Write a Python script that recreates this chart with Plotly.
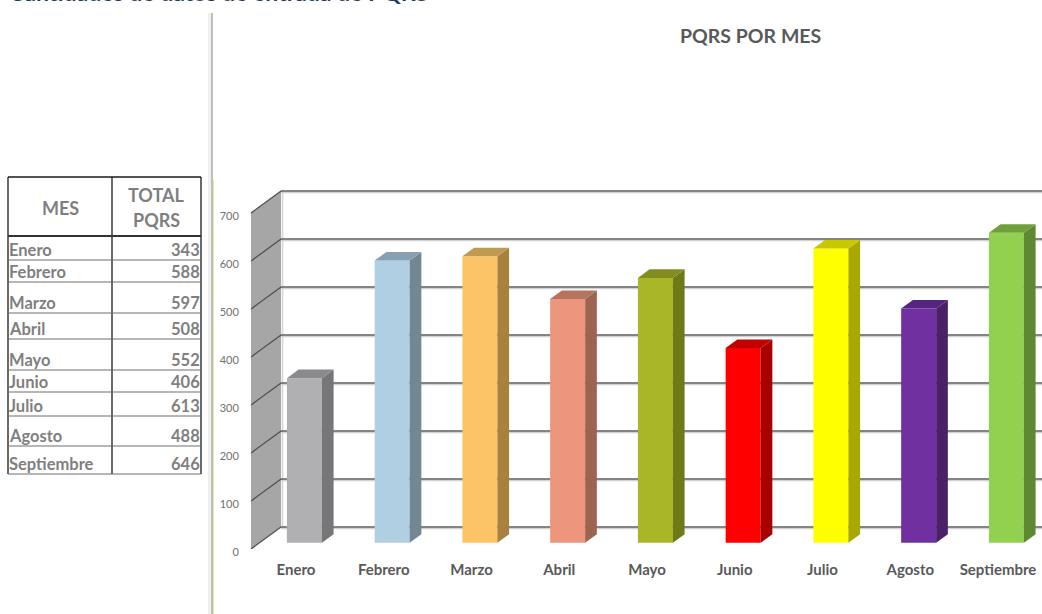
import plotly.graph_objects as go

MESES = ["Enero", "Febrero", "Marzo", "Abril", "Mayo", "Junio", "Julio", "Agosto", "Septiembre"]
TOTALES = [343, 588, 597, 508, 552, 406, 613, 488, 646]
COLOR_FRENTE = ["#b0b0b2", "#b0cfe2", "#fdc367", "#ed967d", "#a9b627", "#ff0000", "#ffff00", "#7030a0", "#92d050"]
COLOR_LADO = ["#767678", "#728693", "#a8813f", "#9c6451", "#6f7918", "#a80000", "#a8a800", "#4a2069", "#5f8832"]
COLOR_TAPA = ["#8a8a8c", "#86a0b2", "#c09a50", "#b47460", "#838c20", "#c20000", "#c8c800", "#552480", "#70a03c"]
TICKS_Y = [0, 100, 200, 300, 400, 500, 600, 700]
TITULO = "PQRS POR MES"
TITULO_CORTADO = "Cantidades de datos de entrada de PQRS"

W, H = 1042, 614
PX_X = 87.75        # px per category
PX_Y = 0.48         # px per unit
X0_PX = 296         # pixel of first category on the front plane
Y0_PX = 549         # pixel of value 0 on the front plane
LEFT_PX = 243
DEPTH_PX_X, DEPTH_PX_Y = 30, 22
BAR_W = 35 / PX_X
D_FRONT, D_BACK = 0.28, 0.67


def dx(d):
    return d * DEPTH_PX_X / PX_X


def dy(d):
    return d * DEPTH_PX_Y / PX_Y


def px(x):
    return x / W


def py(y):
    return 1 - y / H


x_min = (LEFT_PX - X0_PX) / PX_X
x_max = (W - X0_PX) / PX_X
y_max = Y0_PX / PX_Y
wall_x = (251 - X0_PX) / PX_X

fig = go.Figure()

# front faces
fig.add_trace(go.Bar(
    x=[i + dx(D_FRONT) for i in range(len(MESES))],
    y=TOTALES,
    base=dy(D_FRONT),
    width=BAR_W,
    marker=dict(color=COLOR_FRENTE, line=dict(width=0)),
    showlegend=False,
    hoverinfo="skip",
))

# side and top faces
for i, v in enumerate(TOTALES):
    xl = i + dx(D_FRONT) - BAR_W / 2
    xr = i + dx(D_FRONT) + BAR_W / 2
    base_f, base_b = dy(D_FRONT), dy(D_BACK)
    shift = dx(D_BACK) - dx(D_FRONT)
    fig.add_trace(go.Scatter(
        x=[xr, xr + shift, xr + shift, xr, xr],
        y=[base_f, base_b, v + base_b, v + base_f, base_f],
        mode="lines", fill="toself", fillcolor=COLOR_LADO[i],
        line=dict(width=0, color=COLOR_LADO[i]), showlegend=False, hoverinfo="skip"))
    fig.add_trace(go.Scatter(
        x=[xl, xr, xr + shift, xl + shift, xl],
        y=[v + base_f, v + base_f, v + base_b, v + base_b, v + base_f],
        mode="lines", fill="toself", fillcolor=COLOR_TAPA[i],
        line=dict(width=0, color=COLOR_TAPA[i]), showlegend=False, hoverinfo="skip"))

shapes = []
annotations = []

# left wall
wb = dx(1)
shapes.append(dict(type="path", xref="x", yref="y", layer="below",
                   path=f"M {wall_x} 0 L {wall_x + wb} {dy(1)} L {wall_x + wb} {700 + dy(1)} L {wall_x} 700 Z",
                   fillcolor="#a6a6a6", line=dict(width=0)))
shapes.append(dict(type="line", xref="x", yref="y", layer="below",
                   x0=wall_x + wb + 1.5 / PX_X, x1=wall_x + wb + 1.5 / PX_X, y0=dy(1), y1=700 + dy(1),
                   line=dict(color="#d4d4d4", width=1.5)))
for t in TICKS_Y:
    shapes.append(dict(type="line", xref="x", yref="y", layer="below",
                       x0=wall_x + wb, x1=x_max, y0=t + dy(1) - 3, y1=t + dy(1) - 3,
                       line=dict(color="#d2d2d2", width=1.5)))
    shapes.append(dict(type="line", xref="x", yref="y", layer="below",
                       x0=wall_x + wb, x1=x_max, y0=t + dy(1), y1=t + dy(1),
                       line=dict(color="#5e5e5e", width=1.5)))
    shapes.append(dict(type="line", xref="x", yref="y", layer="below",
                       x0=wall_x, x1=wall_x + wb, y0=t, y1=t + dy(1),
                       line=dict(color="#505050", width=1.3)))

# divider at left of the chart
shapes += [
    dict(type="rect", xref="paper", yref="paper", x0=px(208), x1=px(212), y0=py(614), y1=py(13),
         fillcolor="#efefef", line=dict(width=0)),
    dict(type="rect", xref="paper", yref="paper", x0=px(211), x1=px(213), y0=py(614), y1=py(13),
         fillcolor="#bfbfba", line=dict(width=0)),
    dict(type="rect", xref="paper", yref="paper", x0=px(213), x1=px(214), y0=py(614), y1=py(180),
         fillcolor="#dfe8a8", line=dict(width=0)),
]

# table
TBL_X = [8, 112, 201]
TBL_TOP, TBL_HEAD = 177, 236
ROW_LINES = [260, 282, 313, 339, 370, 392, 416, 446, 474]
ROW_TEXT = [250, 272, 303, 329, 360, 382, 406, 436, 464]
GRIS_TXT = "#7f7f7f"
for x in TBL_X:
    shapes.append(dict(type="line", xref="paper", yref="paper", x0=px(x), x1=px(x), y0=py(TBL_TOP), y1=py(ROW_LINES[-1]),
                       line=dict(color="#1a1a1a", width=1.3)))
shapes.append(dict(type="line", xref="paper", yref="paper", x0=px(8), x1=px(201), y0=py(TBL_TOP), y1=py(TBL_TOP),
                   line=dict(color="#1a1a1a", width=1.5)))
shapes.append(dict(type="line", xref="paper", yref="paper", x0=px(8), x1=px(201), y0=py(TBL_HEAD), y1=py(TBL_HEAD),
                   line=dict(color="#333333", width=2)))
for y in ROW_LINES:
    shapes.append(dict(type="line", xref="paper", yref="paper", x0=px(8), x1=px(201), y0=py(y), y1=py(y),
                       line=dict(color="#6f6f6f", width=1.1)))

FONT_TB = "Lato, Carlito, Calibri, sans-serif"


def note(text, x, y, size, xanchor="center", color=GRIS_TXT, family=FONT_TB, yanchor="middle"):
    annotations.append(dict(text=f"<b>{text}</b>", xref="paper", yref="paper", x=px(x), y=py(y),
                            xanchor=xanchor, yanchor=yanchor, showarrow=False,
                            font=dict(size=size, color=color, family=family),
                            borderpad=0, borderwidth=0))


note("MES", 60, 208, 18)
note("TOTAL", 156, 195, 18)
note("PQRS", 156, 220, 18)
for mes, val, y in zip(MESES, TOTALES, ROW_TEXT):
    note(mes, 9, y, 16.5, xanchor="left")
    note(str(val), 200, y, 16.5, xanchor="right")

note(TITULO, 750, 35, 19.5, color="#595959")
note(TITULO_CORTADO, 218, -8, 23, color="#1f3864", yanchor="middle")

fig.update_layout(
    width=W, height=H,
    margin=dict(l=0, r=0, t=0, b=0, pad=0),
    paper_bgcolor="white", plot_bgcolor="rgba(0,0,0,0)",
    autosize=False, showlegend=False, barmode="overlay",
    shapes=shapes, annotations=annotations,
    xaxis=dict(domain=[LEFT_PX / W, 1], range=[x_min, x_max], tickmode="array", automargin=False,
               tickvals=list(range(len(MESES))), ticktext=MESES,
               showgrid=False, zeroline=False, showline=False,
               ticks="outside", ticklen=7, tickcolor="rgba(0,0,0,0)",
               tickfont=dict(family=FONT_TB, size=15, color="#595959", weight="bold")),
    yaxis=dict(domain=[(H - Y0_PX) / H, 1], range=[0, y_max], tickmode="array", automargin=False,
               tickvals=TICKS_Y, ticktext=[str(t) for t in TICKS_Y],
               showgrid=False, zeroline=False, showline=False,
               ticks="outside", ticklen=1, tickcolor="rgba(0,0,0,0)", ticklabelshift=3,
               tickfont=dict(family="Lato, sans-serif", size=11, color="#707070")),
)

fig.write_html("out.html", config={"displayModeBar": False},
               post_script="document.body.style.margin='0';document.body.style.overflow='hidden';")
